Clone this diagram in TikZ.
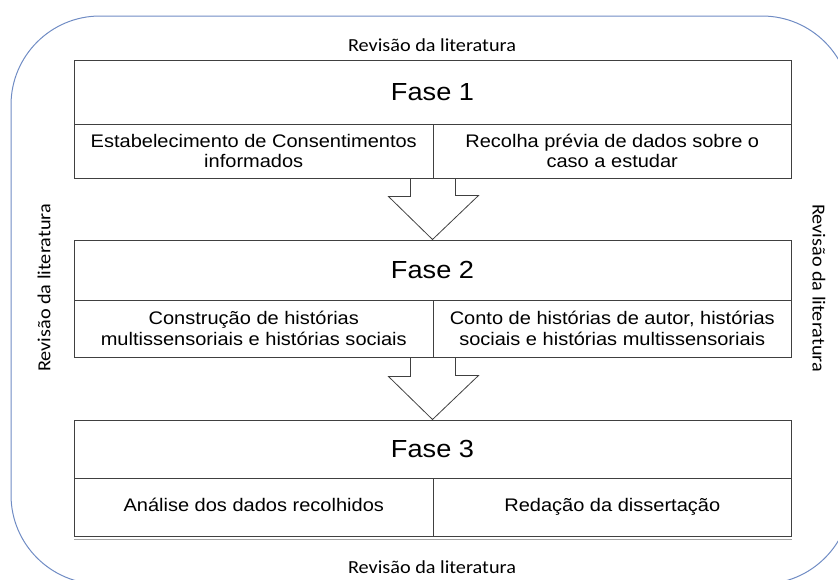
\documentclass[tikz,border=0pt]{standalone}
\usepackage{fontspec}
\setmainfont{Liberation Sans}[FakeStretch=1.1]
\newfontfamily\revfont{Carlito}[FakeStretch=1.1]
\usetikzlibrary{calc}
\definecolor{outerblue}{RGB}{112,140,196}
\definecolor{boxline}{RGB}{64,64,64}
\tikzset{
  titlecell/.style={draw=boxline, line width=1pt, minimum width=717pt, minimum height=64pt, inner sep=0pt, font=\fontsize{24.7}{28}\selectfont},
  subcell/.style={draw=boxline, line width=1pt, minimum width=358.5pt, minimum height=54pt, inner sep=0pt, align=center, font=\fontsize{18.2}{20.7}\selectfont},
  onelinecell/.style={subcell, text height=13pt, text depth=4pt},
  revtext/.style={font=\revfont\fontsize{18.4}{20}\selectfont, inner sep=0pt},
  blockarrow/.style={draw=boxline, line width=0.8pt, fill=white, line join=miter}
}
\begin{document}
\begin{tikzpicture}[x=1pt,y=-1pt]
\useasboundingbox (0,0) rectangle (838,579);
\clip (0,0) rectangle (838,579);
% outer rounded frame
\draw[outerblue, line width=1pt, rounded corners=89pt] (11,16) rectangle (851,584);
% side labels
\node[revtext] (revtop) at (432,45) {Revisão da literatura};
\node[revtext] (revbot) at (432,567) {Revisão da literatura};
\node[revtext, rotate=90] (revleft) at (44,288) {Revisão da literatura};
\node[revtext, rotate=-90] (revright) at (819,288) {Revisão da literatura};
% Fase 1
\node[titlecell] (f1) at (432.5,92) {Fase 1};
\node[subcell] (f1a) at (253.75,151) {Estabelecimento de Consentimentos\\informados};
\node[subcell] (f1b) at (612.25,151) {Recolha prévia de dados sobre o\\caso a estudar};
% Fase 2
\node[titlecell, minimum height=60pt] (f2) at (432.5,270) {Fase 2};
\node[subcell, minimum height=57pt] (f2a) at (253.75,328.5) {Construção de histórias\\multissensoriais e histórias sociais};
\node[subcell, minimum height=57pt] (f2b) at (612.25,328.5) {Conto de histórias de autor, histórias\\sociais e histórias multissensoriais};
% Fase 3
\node[titlecell, minimum height=58pt] (f3) at (432.5,449) {Fase 3};
\node[onelinecell, minimum height=58pt] (f3a) at (253.75,507) {Análise dos dados recolhidos};
\node[onelinecell, minimum height=58pt] (f3b) at (612.25,507) {Redação da dissertação};
\draw[gray!70, line width=0.8pt] ($(f3a.south west)+(0,2.5)$) -- ($(f3b.south east)+(0,2.5)$);
% block arrows
\draw[blockarrow] ($(f1a.south east)+(-23,0)$) -- ++(0,18) -- ++(-22,0) -- (f2.north) -- ++(46,-44) -- ++(-23,0) -- ($(f1b.south west)+(23,0)$) -- cycle;
\draw[blockarrow] ($(f2a.south east)+(-23,0)$) -- ++(0,19) -- ++(-22,0) -- (f3.north) -- ++(46,-44) -- ++(-23,0) -- ($(f2b.south west)+(23,0)$) -- cycle;
\end{tikzpicture}
\end{document}
